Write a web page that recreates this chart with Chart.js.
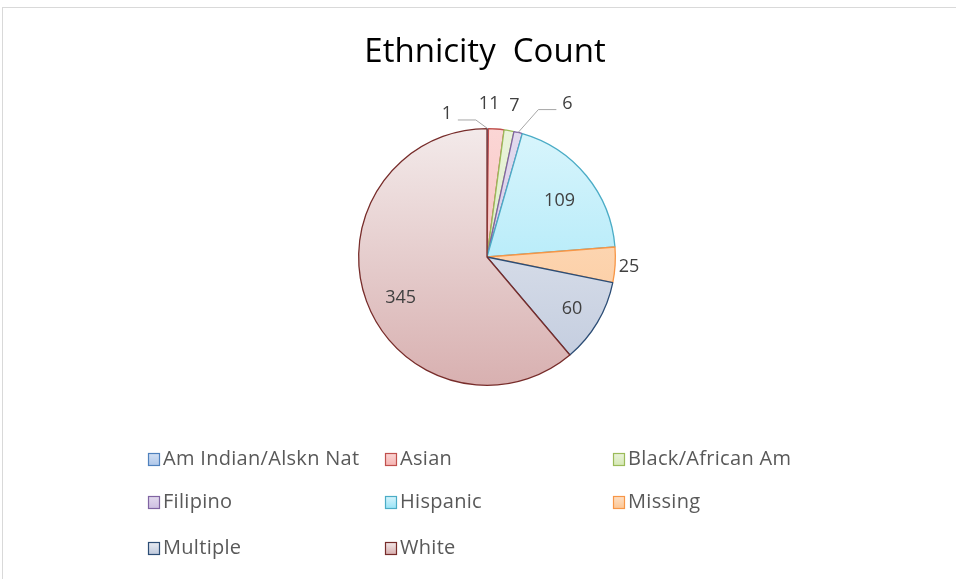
<!DOCTYPE html>
<html>
<head>
<meta charset="utf-8">
<title>Ethnicity Count</title>
<script src="https://cdn.jsdelivr.net/npm/chart.js@4/dist/chart.umd.min.js"></script>
<style>
  html, body { margin: 0; padding: 0; background: #fff; overflow: hidden; }
  .frame {
    position: absolute; left: 2px; top: 7px; width: 980px; height: 600px;
    border: 1px solid #d9d9d9; box-sizing: border-box;
  }
  .wrap { position: absolute; left: 0; top: 0; width: 956px; height: 579px; }
</style>
</head>
<body>
<div class="frame"></div>
<div class="wrap"><canvas id="pieChart" width="956" height="579"></canvas></div>
<script>
// data
const categories = ["Am Indian/Alskn Nat", "Asian", "Black/African Am", "Filipino", "Hispanic", "Missing", "Multiple", "White"];
const counts = [1, 11, 7, 6, 109, 25, 60, 345];

// excel-ish palette: border, gradient top, gradient bottom
const borderColors = ["#4f81bd", "#c0504d", "#9bbb59", "#8064a2", "#4bacc6", "#f79646", "#2c4d75", "#772c2a"];
const fillTop = ["#d3e0f3", "#fbd6d5", "#eaf3db", "#e3dbee", "#d9f5fc", "#fde0c6", "#e9ecf2", "#f3eaea"];
const fillBottom = ["#b0c8ea", "#f5b5b3", "#d6e9b6", "#cfc0e2", "#9be4f7", "#fcc796", "#c0cadd", "#d8b0b0"];

// label placement: radius factor along the slice middle, plus a small nudge
const labelStyle = [
  { r: 1.2, dx: -41, dy: 11, leader: true },
  { r: 1.2, dx: -9, dy: 0 },
  { r: 1.2, dx: 1, dy: 1 },
  { r: 1.2, dx: 43, dy: -4, leader: true },
  { r: 0.72, dx: 1, dy: 2 },
  { r: 1.1, dx: 1, dy: 1 },
  { r: 0.76, dx: 1, dy: 2 },
  { r: 0.75, dx: 4, dy: 8 }
];

const legendCols = [148, 385, 613];
const legendRows = [459, 502, 548];

function sliceFill(ctx) {
  const chart = ctx.chart;
  const area = chart.chartArea;
  if (!area) return fillTop[ctx.dataIndex];
  const g = chart.ctx.createLinearGradient(0, area.top, 0, area.bottom);
  g.addColorStop(0, fillTop[ctx.dataIndex]);
  g.addColorStop(1, fillBottom[ctx.dataIndex]);
  return g;
}

// draws value labels + leader lines
const valueLabels = {
  id: 'valueLabels',
  afterDatasetsDraw(chart) {
    const c = chart.ctx;
    const meta = chart.getDatasetMeta(0);
    c.save();
    c.font = '18px "Open Sans", sans-serif';
    c.fillStyle = '#404040';
    c.textAlign = 'center';
    c.textBaseline = 'middle';
    meta.data.forEach((arc, i) => {
      const p = arc.getProps(['x', 'y', 'startAngle', 'endAngle', 'outerRadius']);
      const mid = (p.startAngle + p.endAngle) / 2;
      const s = labelStyle[i];
      const lx = p.x + Math.cos(mid) * p.outerRadius * s.r + (s.dx || 0);
      const ly = p.y + Math.sin(mid) * p.outerRadius * s.r + (s.dy || 0);
      c.fillText(String(counts[i]), lx, ly);
      if (s.leader) {
        const ex = p.x + Math.cos(mid) * p.outerRadius;
        const ey = p.y + Math.sin(mid) * p.outerRadius;
        const side = ex > lx ? 1 : -1;
        const hx = lx + side * 11;
        const hy = ly + 6;
        c.beginPath();
        c.strokeStyle = '#a6a6a6';
        c.lineWidth = 1;
        c.moveTo(hx, hy);
        c.lineTo(hx + side * 18, hy);
        c.lineTo(ex, ey);
        c.stroke();
      }
    });
    c.restore();
  }
};

// 3 column legend like the excel one
const gridLegend = {
  id: 'gridLegend',
  afterDraw(chart) {
    const c = chart.ctx;
    c.save();
    c.font = '20px "Open Sans", sans-serif';
    c.letterSpacing = '0.3px';
    c.textBaseline = 'middle';
    categories.forEach((name, i) => {
      const x = legendCols[i % 3];
      const y = legendRows[Math.floor(i / 3)];
      const g = c.createLinearGradient(0, y - 6, 0, y + 6);
      g.addColorStop(0, fillTop[i]);
      g.addColorStop(1, fillBottom[i]);
      c.fillStyle = g;
      c.fillRect(x, y - 6, 11, 12);
      c.strokeStyle = borderColors[i];
      c.lineWidth = 1.2;
      c.strokeRect(x + 0.5, y - 5.5, 11, 12);
      c.fillStyle = '#595959';
      c.fillText(name, x + 15, y);
    });
    c.restore();
  }
};

new Chart(document.getElementById('pieChart'), {
  type: 'pie',
  data: {
    labels: categories,
    datasets: [{
      data: counts,
      backgroundColor: sliceFill,
      borderColor: borderColors,
      borderWidth: 1.3
    }]
  },
  options: {
    responsive: false,
    animation: false,
    layout: { padding: { top: 128, bottom: 193, left: 200, right: 182 } },
    plugins: {
      legend: { display: false },
      tooltip: { enabled: false },
      title: { display: false }
    }
  },
  plugins: [valueLabels, gridLegend, {
    id: 'chartTitle',
    afterDraw(chart) {
      const c = chart.ctx;
      c.save();
      c.font = '33px "Open Sans", sans-serif';
      c.fillStyle = '#000';
      c.textAlign = 'center';
      c.textBaseline = 'alphabetic';
      c.fillText('Ethnicity  Count', 485, 62);
      c.restore();
    }
  }]
});
</script>
</body>
</html>
